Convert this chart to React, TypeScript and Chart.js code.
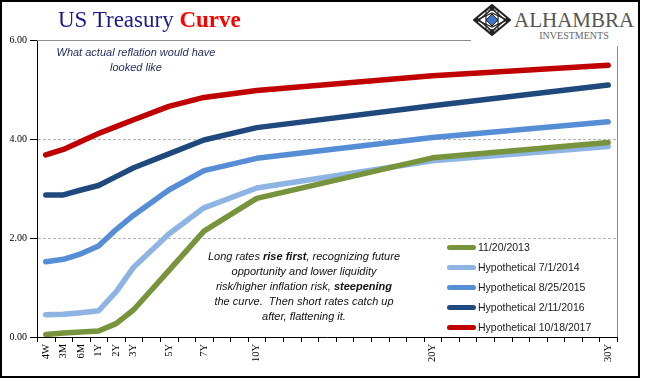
import React, { useEffect, useRef } from 'react';
import { Chart, registerables } from 'chart.js';

Chart.register(...registerables);

// ---- data ----
const maturityLabels = ['4W', '3M', '6M', '1Y', '2Y', '3Y', '5Y', '7Y', '10Y', '20Y', '30Y'];
// position of each maturity along the (time-based) category axis
const maturityPos = [0, 1, 2, 3, 4, 5, 7, 9, 12, 22, 32];

const seriesNames = [
  '11/20/2013',
  'Hypothetical 7/1/2014',
  'Hypothetical 8/25/2015',
  'Hypothetical 2/11/2016',
  'Hypothetical 10/18/2017',
];
const curve2013 = [0.05, 0.08, 0.1, 0.12, 0.27, 0.55, 1.34, 2.14, 2.8, 3.62, 3.93];
const curve2014 = [0.45, 0.46, 0.49, 0.53, 0.91, 1.41, 2.08, 2.61, 3.01, 3.56, 3.85];
const curve2015 = [1.52, 1.57, 1.68, 1.84, 2.17, 2.46, 2.97, 3.36, 3.61, 4.03, 4.35];
const curve2016 = [2.87, 2.87, 2.97, 3.06, 3.24, 3.42, 3.7, 3.98, 4.23, 4.67, 5.09];
const curve2017 = [3.68, 3.79, 3.95, 4.11, 4.25, 4.39, 4.66, 4.84, 4.98, 5.28, 5.49];
const seriesValues = [curve2013, curve2014, curve2015, curve2016, curve2017];
const seriesColors = ['#77933C', '#8EB4E3', '#558ED5', '#1F497D', '#C00000'];

const yMin = 0;
const yMax = 6;
const yStep = 2;
const xMin = -0.5;
const xMax = 32.5;

const framePlugin = {
  id: 'frame',
  beforeDatasetsDraw(chart: any) {
    const { ctx, chartArea } = chart;
    ctx.save();
    ctx.strokeStyle = '#8c8c8c';
    ctx.lineWidth = 1;
    ctx.beginPath();
    ctx.moveTo(chartArea.left, Math.round(chartArea.top) + 0.5);
    ctx.lineTo(Math.round(chartArea.right) + 0.5, Math.round(chartArea.top) + 0.5);
    ctx.lineTo(Math.round(chartArea.right) + 0.5, chartArea.bottom);
    ctx.stroke();
    ctx.restore();
  },
  afterDraw(chart: any) {
    const { ctx, chartArea } = chart;
    const xs = chart.scales.x;
    const yb = Math.round(chartArea.bottom);
    ctx.save();
    ctx.strokeStyle = '#000';
    ctx.lineWidth = 1;
    ctx.beginPath();
    for (let k = xMin; k <= xMax; k += 1) {
      const px = Math.round(xs.getPixelForValue(k)) + 0.5;
      ctx.moveTo(px, yb);
      ctx.lineTo(px, yb + 5);
    }
    ctx.stroke();
    ctx.restore();
  },
};

function LogoIcon() {
  return (
    <svg width="38" height="32" viewBox="0 0 38 32" style={{ position: 'absolute', left: 473, top: 4 }}>
      <polygon points="19,1 37,16 19,31 1,16" fill="none" stroke="#222" strokeWidth="2" />
      <polygon points="19,5 32,16 19,27 6,16" fill="none" stroke="#222" strokeWidth="1.5" />
      <polygon points="13,6 25,6 25,26 13,26" fill="none" stroke="#222" strokeWidth="1.2" />
      <polygon points="4,16 19,9 34,16 19,23" fill="none" stroke="#222" strokeWidth="1.2" />
      <polygon points="19,10 25,16 19,22 13,16" fill="#3F72C4" stroke="#222" strokeWidth="1" />
      <polygon points="19,1 22,4 19,7 16,4" fill="#222" />
      <polygon points="19,25 22,28 19,31 16,28" fill="#222" />
      <polygon points="1,16 4,13 7,16 4,19" fill="#222" />
      <polygon points="37,16 34,13 31,16 34,19" fill="#222" />
    </svg>
  );
}

export default function App() {
  const canvasRef = useRef<HTMLCanvasElement | null>(null);

  useEffect(() => {
    const canvas = canvasRef.current;
    if (!canvas) return;
    const datasets = seriesNames.map((name, si) => ({
      label: name,
      data: maturityPos.map((x, i) => ({ x, y: seriesValues[si][i] })),
      borderColor: seriesColors[si],
      backgroundColor: seriesColors[si],
      borderWidth: 5.5,
      borderCapStyle: 'round' as const,
      borderJoinStyle: 'round' as const,
      pointRadius: 0,
      tension: 0,
      fill: false,
    }));

    const chart = new Chart(canvas, {
      type: 'line',
      data: { datasets },
      plugins: [framePlugin],
      options: {
        animation: false,
        responsive: false,
        events: [],
        layout: { padding: { top: 40, right: 30, bottom: 0, left: 0 } },
        plugins: {
          legend: { display: false },
          tooltip: { enabled: false },
          title: { display: false },
        },
        scales: {
          x: {
            type: 'linear',
            min: xMin,
            max: xMax,
            afterBuildTicks: (scale: any) => {
              scale.ticks = maturityPos.map((v) => ({ value: v }));
            },
            afterFit: (scale: any) => {
              scale.height = 44;
            },
            ticks: {
              autoSkip: false,
              minRotation: 90,
              maxRotation: 90,
              padding: 2,
              color: '#000',
              font: { family: '"Liberation Serif", serif', size: 10.5 },
              callback: (value: any) => {
                const i = maturityPos.indexOf(Number(value));
                return i >= 0 ? maturityLabels[i] : '';
              },
            },
            grid: {
              drawOnChartArea: false,
              drawTicks: true,
              tickLength: 5,
              color: 'rgba(0,0,0,0)',
              tickColor: 'rgba(0,0,0,0)',
            },
            border: { display: true, color: '#000', width: 1 },
          },
          y: {
            type: 'linear',
            min: yMin,
            max: yMax,
            afterFit: (scale: any) => {
              scale.width = 37;
            },
            ticks: {
              stepSize: yStep,
              padding: 3,
              color: '#000',
              font: { family: '"Liberation Serif", serif', size: 10 },
              callback: (value: any) => Number(value).toFixed(2),
            },
            grid: {
              drawOnChartArea: true,
              drawTicks: true,
              tickLength: 7,
              lineWidth: 1,
              color: (ctx: any) =>
                ctx.tick && ctx.tick.value > yMin && ctx.tick.value < yMax ? '#b4b4b4' : 'rgba(0,0,0,0)',
              tickColor: '#000',
            },
            border: { display: true, color: '#000', width: 1, dash: [3, 2] },
          },
        },
      },
    });
    return () => chart.destroy();
  }, []);

  return (
    <div
      style={{
        position: 'fixed',
        left: 0,
        top: 0,
        width: 647,
        height: 381,
        background: '#fff',
        overflow: 'hidden',
      }}
    >
      <canvas ref={canvasRef} width={647} height={381} style={{ position: 'absolute', left: 0, top: 0 }} />

      {/* title */}
      <div
        style={{
          position: 'absolute',
          left: 58,
          top: 8,
          fontFamily: '"Liberation Serif", serif',
          fontSize: 23,
          lineHeight: '23px',
          whiteSpace: 'nowrap',
        }}
      >
        <span style={{ color: '#1a1a8c' }}>US Treasury </span>
        <span style={{ color: '#ff0000', fontWeight: 'bold' }}>Curve</span>
      </div>

      {/* logo */}
      <div style={{ position: 'absolute', left: 471, top: 2, width: 167, height: 44, background: '#fff' }} />
      <LogoIcon />
      <div
        style={{
          position: 'absolute',
          left: 514,
          top: 10,
          fontFamily: '"Liberation Serif", serif',
          fontSize: 21,
          lineHeight: '21px',
          color: '#555',
          whiteSpace: 'nowrap',
        }}
      >
        ALHAMBRA
      </div>
      <div
        style={{
          position: 'absolute',
          left: 514,
          width: 120,
          top: 31,
          textAlign: 'center',
          fontFamily: '"Liberation Serif", serif',
          fontSize: 10,
          lineHeight: '10px',
          color: '#666',
          whiteSpace: 'nowrap',
        }}
      >
        INVESTMENTS
      </div>

      {/* annotation top-left */}
      <div
        style={{
          position: 'absolute',
          left: 36,
          top: 45,
          width: 200,
          textAlign: 'center',
          fontFamily: '"Liberation Sans", sans-serif',
          fontStyle: 'italic',
          fontSize: 11,
          lineHeight: '15px',
          color: '#1f2a5c',
        }}
      >
        What actual reflation would have
        <br />
        looked like
      </div>

      {/* annotation middle */}
      <div
        style={{
          position: 'absolute',
          left: 194,
          top: 249,
          width: 220,
          textAlign: 'center',
          fontFamily: '"Liberation Sans", sans-serif',
          fontStyle: 'italic',
          fontSize: 11,
          lineHeight: '15px',
          color: '#111',
          whiteSpace: 'nowrap',
        }}
      >
        Long rates <b>rise first</b>, recognizing future
        <br />
        opportunity and lower liquidity
        <br />
        risk/higher inflation risk, <b>steepening</b>
        <br />
        {'the curve.\u00a0 Then short rates catch up'}
        <br />
        after, flattening it.
      </div>

      {/* legend */}
      <div style={{ position: 'absolute', left: 447, top: 237 }}>
        {seriesNames.map((name, i) => (
          <div key={name} style={{ display: 'flex', alignItems: 'center', height: 20 }}>
            <div style={{ width: 29, height: 5, borderRadius: 3, background: seriesColors[i], marginRight: 2 }} />
            <span
              style={{
                fontFamily: '"Liberation Sans", sans-serif',
                fontSize: 10.5,
                color: '#1a1a1a',
                whiteSpace: 'nowrap',
              }}
            >
              {name}
            </span>
          </div>
        ))}
      </div>

      {/* outer frame */}
      <div
        style={{
          position: 'absolute',
          left: 0,
          top: 0,
          width: 640,
          height: 378,
          border: '2px solid #000',
          boxSizing: 'border-box',
          pointerEvents: 'none',
        }}
      />
    </div>
  );
}
